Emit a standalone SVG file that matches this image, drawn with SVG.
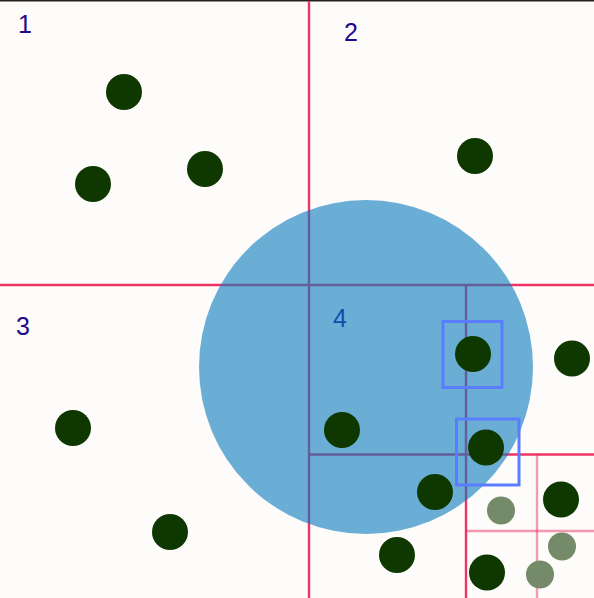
<svg xmlns="http://www.w3.org/2000/svg" width="594" height="598" viewBox="0 0 594 598">
<style>
.ln{stroke:#ee3464;stroke-width:2.4;fill:none}
.ln2{stroke:#ee3464;stroke-width:2.4;fill:none;opacity:0.5}
.lbl{font-family:"Liberation Sans",Arial,sans-serif;font-size:25px;fill:#220a88}
.dot{fill:#0e3800}
.ldot{fill:#758a69}
.box{fill:none;stroke:#5a7dff;stroke-width:3}
</style>
<rect x="0" y="0" width="594" height="598" fill="#fefcfb"/>
<rect x="0" y="0" width="594" height="1.5" fill="#222"/>
<g id="connectors">
<line class="ln" x1="309" y1="1" x2="309" y2="598"/>
<line class="ln" x1="0" y1="285" x2="594" y2="285"/>
<line class="ln" x1="466" y1="285" x2="466" y2="598"/>
<line class="ln" x1="309" y1="454.5" x2="594" y2="454.5"/>
<line class="ln2" x1="537" y1="454.5" x2="537" y2="598"/>
<line class="ln2" x1="466" y1="531" x2="594" y2="531"/>
</g>
<g id="labels">
<text class="lbl" x="18" y="33">1</text>
<text class="lbl" x="344" y="41">2</text>
<text class="lbl" x="16" y="335">3</text>
<text class="lbl" x="333" y="327">4</text>
</g>
<g id="range">
<circle cx="366" cy="367" r="167" fill="rgb(7,121,190)" fill-opacity="0.6"/>
</g>
<g id="points">
<circle class="dot" cx="124" cy="92" r="18"/>
<circle class="dot" cx="93" cy="184" r="18"/>
<circle class="dot" cx="205" cy="169" r="18"/>
<circle class="dot" cx="475" cy="156" r="18"/>
<circle class="dot" cx="572" cy="358.5" r="18"/>
<circle class="dot" cx="473" cy="354" r="18"/>
<circle class="dot" cx="73" cy="428" r="18"/>
<circle class="dot" cx="342" cy="430" r="18"/>
<circle class="dot" cx="486" cy="447.5" r="18"/>
<circle class="dot" cx="435" cy="492" r="18"/>
<circle class="dot" cx="170" cy="532" r="18"/>
<circle class="dot" cx="397" cy="555" r="18"/>
<circle class="dot" cx="561" cy="499.5" r="18"/>
<circle class="dot" cx="487" cy="572.5" r="18"/>
<circle class="ldot" cx="501" cy="510.5" r="14"/>
<circle class="ldot" cx="562" cy="546.5" r="14"/>
<circle class="ldot" cx="540" cy="574.5" r="14"/>
</g>
<g id="boxes">
<rect class="box" x="443" y="321.5" width="59" height="66"/>
<rect class="box" x="456.5" y="419" width="62.5" height="66"/>
</g>
</svg>
